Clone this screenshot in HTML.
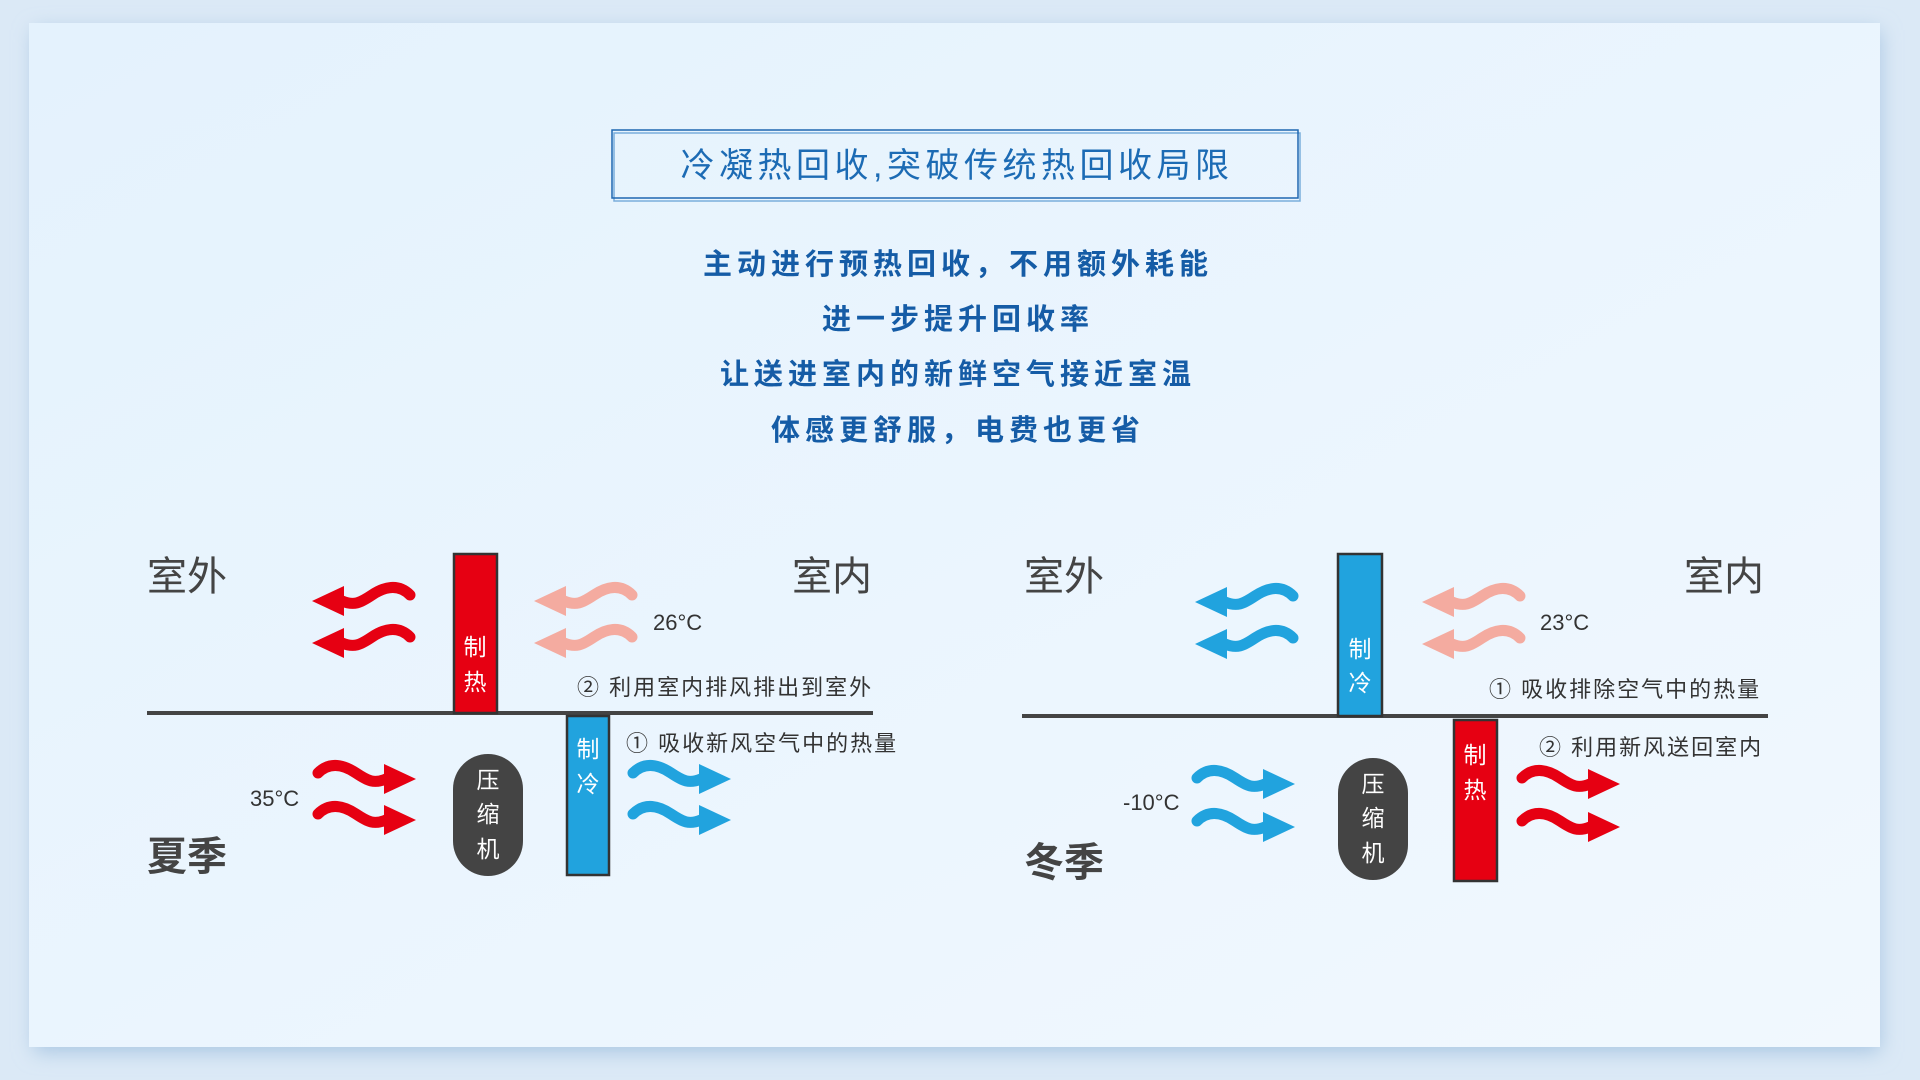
<!DOCTYPE html>
<html><head><meta charset="utf-8"><style>
html,body{margin:0;padding:0;width:1920px;height:1080px;overflow:hidden;background:#dbe9f6;}
svg{display:block}
</style></head><body>
<svg width="1920" height="1080" viewBox="0 0 1920 1080" xmlns="http://www.w3.org/2000/svg" font-family="'Liberation Sans','Noto Sans CJK SC',sans-serif">
<defs>
<linearGradient id="bg" x1="0" y1="0" x2="1" y2="1"><stop offset="0" stop-color="#e4f2fd"/><stop offset="1" stop-color="#f1f8fe"/></linearGradient>
<filter id="sh" x="-5%" y="-5%" width="110%" height="110%"><feGaussianBlur stdDeviation="10"/></filter>
<g id="ar"><path d="M6,14 C18,2 32,6 44,14 S62,25 74,20" fill="none" stroke-width="11" stroke-linecap="round"/><polygon points="72,5 104,20 72,35" stroke="none"/></g>
</defs>
<rect x="0" y="0" width="1920" height="1080" fill="#dbe9f6"/>
<rect x="34" y="30" width="1846" height="1022" fill="#a9c6e2" filter="url(#sh)"/>
<rect x="29" y="23" width="1851" height="1024" fill="url(#bg)"/>

<!-- title -->
<rect x="614" y="133" width="686" height="68" fill="none" stroke="#7aaedc" stroke-width="1.5"/>
<rect x="612" y="130" width="686" height="68" fill="none" stroke="#1f67b1" stroke-width="1.5"/>
<text x="957" y="177" text-anchor="middle" font-size="34" letter-spacing="4.5" fill="#1c6bb4">冷凝热回收,突破传统热回收局限</text>
<g font-size="29" font-weight="bold" fill="#155ca6" text-anchor="middle" letter-spacing="5">
<text x="958" y="274">主动进行预热回收，不用额外耗能</text>
<text x="958" y="329">进一步提升回收率</text>
<text x="958" y="384">让送进室内的新鲜空气接近室温</text>
<text x="958" y="440">体感更舒服，电费也更省</text>
</g>

<!-- LEFT -->
<g font-size="40" fill="#444">
<text x="147" y="590">室外</text>
<text x="792" y="590">室内</text>
<text x="147" y="870" font-weight="bold">夏季</text>
<text x="1024" y="590">室外</text>
<text x="1684" y="590">室内</text>
<text x="1024" y="876" font-weight="bold">冬季</text>
</g>
<line x1="147" y1="713" x2="873" y2="713" stroke="#444" stroke-width="4"/>
<rect x="454" y="554" width="43" height="159" fill="#e60012" stroke="#333" stroke-width="2.5"/>
<rect x="567" y="716" width="42" height="159" fill="#21a3de" stroke="#333" stroke-width="2.5"/>
<rect x="453" y="754" width="70" height="122" rx="35" fill="#444"/>
<g font-size="23" fill="#fff" text-anchor="middle">
<text x="475" y="655">制</text><text x="475" y="690">热</text>
<text x="588" y="757">制</text><text x="588" y="792">冷</text>
<text x="488" y="788">压</text><text x="488" y="822">缩</text><text x="488" y="857">机</text>
</g>
<g fill="#e60012" stroke="#e60012">
<use href="#ar" transform="translate(416,581) scale(-1,1)"/>
<use href="#ar" transform="translate(416,623) scale(-1,1)"/>
<use href="#ar" transform="translate(312,759)"/>
<use href="#ar" transform="translate(312,800)"/>
</g>
<g fill="#f4aba0" stroke="#f4aba0">
<use href="#ar" transform="translate(638,581) scale(-1,1)"/>
<use href="#ar" transform="translate(638,623) scale(-1,1)"/>
</g>
<g fill="#21a3de" stroke="#21a3de">
<use href="#ar" transform="translate(627,759)"/>
<use href="#ar" transform="translate(627,800)"/>
</g>
<g font-size="22" fill="#333" letter-spacing="2">
<text x="653" y="630" letter-spacing="0">26°C</text>
<text x="250" y="806" letter-spacing="0">35°C</text>
<text x="577" y="695">② 利用室内排风排出到室外</text>
<text x="626" y="751">① 吸收新风空气中的热量</text>
</g>

<!-- RIGHT -->
<line x1="1022" y1="716" x2="1768" y2="716" stroke="#444" stroke-width="4"/>
<rect x="1338" y="554" width="44" height="162" fill="#21a3de" stroke="#333" stroke-width="2.5"/>
<rect x="1454" y="720" width="43" height="161" fill="#e60012" stroke="#333" stroke-width="2.5"/>
<rect x="1338" y="758" width="70" height="122" rx="35" fill="#444"/>
<g font-size="23" fill="#fff" text-anchor="middle">
<text x="1360" y="657">制</text><text x="1360" y="691">冷</text>
<text x="1475" y="763">制</text><text x="1475" y="798">热</text>
<text x="1373" y="792">压</text><text x="1373" y="826">缩</text><text x="1373" y="861">机</text>
</g>
<g fill="#21a3de" stroke="#21a3de">
<use href="#ar" transform="translate(1299,582) scale(-1,1)"/>
<use href="#ar" transform="translate(1299,624) scale(-1,1)"/>
<use href="#ar" transform="translate(1191,764)"/>
<use href="#ar" transform="translate(1191,807)"/>
</g>
<g fill="#f4aba0" stroke="#f4aba0">
<use href="#ar" transform="translate(1526,582) scale(-1,1)"/>
<use href="#ar" transform="translate(1526,624) scale(-1,1)"/>
</g>
<g fill="#e60012" stroke="#e60012">
<use href="#ar" transform="translate(1516,764)"/>
<use href="#ar" transform="translate(1516,807)"/>
</g>
<g font-size="22" fill="#333" letter-spacing="2">
<text x="1540" y="630" letter-spacing="0">23°C</text>
<text x="1123" y="810" letter-spacing="0">-10°C</text>
<text x="1489" y="697">① 吸收排除空气中的热量</text>
<text x="1539" y="755">② 利用新风送回室内</text>
</g>
</svg>
</body></html>
